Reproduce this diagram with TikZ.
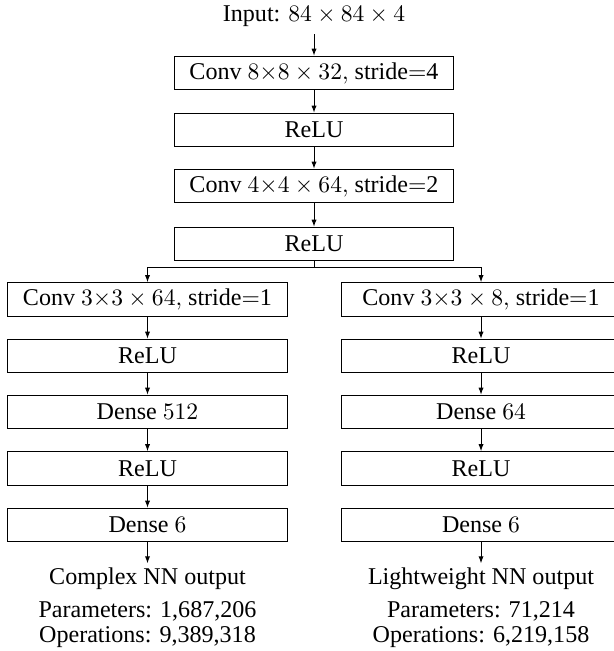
\documentclass[tikz,border=0pt]{standalone}
\usepackage[no-math]{fontspec}
\setmainfont{Liberation Serif}
\usetikzlibrary{arrows.meta}
\begin{document}
\begin{tikzpicture}[x=0.4237pt,y=-0.4237pt,
  layer/.style={draw,line width=0.42pt,minimum width=118.6pt,minimum height=14.2pt,inner sep=0pt,font=\fontsize{10.2}{12}\selectfont},
  lbl/.style={inner sep=0pt,font=\fontsize{10.2}{12}\selectfont},
  stats/.style={inner sep=0pt,align=center,font=\fontsize{10.2}{10.6}\selectfont},
  conn/.style={line width=0.42pt,-{Latex[length=3pt,width=2.2pt]}},
  plain/.style={line width=0.42pt}]
\useasboundingbox (0,0) rectangle (614,651);
\node[lbl,outer sep=3.3pt] (in) at (314,16) {Input: $84\times84\times4$};
\node[layer] (c1) at (314,73) {Conv $8{\times}8\times32,$ stride$=$4};
\node[layer] (r1) at (314,130) {ReLU};
\node[layer] (c2) at (314,186) {Conv $4{\times}4\times64,$ stride$=$2};
\node[layer] (r2) at (314,244) {ReLU};
\coordinate (split) at (314,267);
\node[layer] (l1) at (147.5,299.5) {Conv $3{\times}3\times64,$ stride$=$1};
\node[layer] (l2) at (147.5,356) {ReLU};
\node[layer] (l3) at (147.5,412) {Dense $512$};
\node[layer] (l4) at (147.5,468.5) {ReLU};
\node[layer] (l5) at (147.5,525) {Dense $6$};
\node[layer] (q1) at (481,299.5) {Conv $3{\times}3\times8,$ stride$=$1};
\node[layer] (q2) at (481,356) {ReLU};
\node[layer] (q3) at (481,412) {Dense $64$};
\node[layer] (q4) at (481,468.5) {ReLU};
\node[layer] (q5) at (481,525) {Dense $6$};
\node[lbl,outer sep=2pt] (lo) at (147.5,579) {Complex NN output};
\node[stats] (ls) at (147.5,624.5) {Parameters: 1,687,206\\Operations: 9,389,318};
\node[lbl,outer sep=2pt] (qo) at (481,579) {Lightweight NN output};
\node[stats] (qs) at (481,624.5) {Parameters: 71,214\\Operations: 6,219,158};
\draw[conn] (in) -- (c1);
\draw[conn] (c1) -- (r1);
\draw[conn] (r1) -- (c2);
\draw[conn] (c2) -- (r2);
\draw[plain] (r2.south) -- (split);
\draw[conn] (split) -| (l1.north);
\draw[conn] (split) -| (q1.north);
\draw[conn] (l1) -- (l2);
\draw[conn] (l2) -- (l3);
\draw[conn] (l3) -- (l4);
\draw[conn] (l4) -- (l5);
\draw[conn] (l5) -- (lo);
\draw[conn] (q1) -- (q2);
\draw[conn] (q2) -- (q3);
\draw[conn] (q3) -- (q4);
\draw[conn] (q5) -- (qo);
\end{tikzpicture}
\end{document}
